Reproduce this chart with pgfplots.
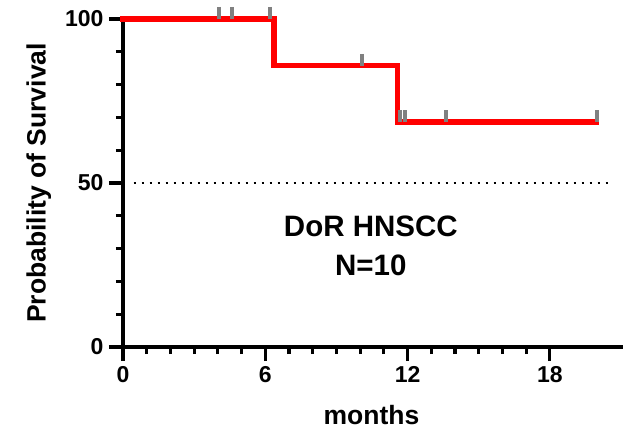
\documentclass[border=0pt]{standalone}
\usepackage{pgfplots}
\pgfplotsset{compat=1.18}
\usepackage{fontspec}
\setmainfont{Liberation Sans}
\begin{document}
\begin{tikzpicture}
\useasboundingbox (-123pt,-86pt) rectangle (500pt,347pt);
\begin{axis}[
  at={(0,0)}, anchor=south west,
  scale only axis, width=498pt, height=328pt,
  xmin=0, xmax=21, ymin=0, ymax=100,
  axis lines=left,
  axis line style={-, line width=3.2pt, black, line cap=rect},
  clip=false,
  xtick={0,6,12,18}, minor x tick num=5,
  ytick={0,50,100}, minor y tick num=4,
  tick align=outside,
  major tick length=14pt, minor tick length=7pt,
  every tick/.style={black, line width=3.2pt},
  /pgf/number format/assume math mode=true,
  tick label style={font=\bfseries\fontsize{23}{23}\selectfont},
  xticklabel style={yshift=-2pt},
  yticklabel style={xshift=-2pt},
  xlabel={months}, ylabel={Probability of Survival},
  label style={font=\bfseries\fontsize{26.5}{26.5}\selectfont},
  xlabel style={at={(axis description cs:0.499,0)}, anchor=center, yshift=-68pt},
  ylabel style={at={(axis description cs:-0.169,0.5)}, anchor=center},
]
\addplot[black, line width=2pt, dash pattern=on 2pt off 6pt] coordinates {(0.45,50) (20.6,50)};
\addplot[const plot, color={rgb,255:red,255;green,0;blue,0}, line width=5.2pt, line cap=rect] coordinates {
  (0,100) (6.37,85.71) (11.57,68.57) (19.98,68.57)
};
\addplot[only marks, mark=|, color={rgb,255:red,128;green,128;blue,128}, mark size=6pt, line width=3.8pt,
  every mark/.append style={yshift=6pt}] coordinates {
  (4.05,100) (4.6,100) (6.2,100)
  (10.08,85.71)
  (11.68,68.57) (11.88,68.57) (13.62,68.57) (19.99,68.57)
};
\node[font=\bfseries\fontsize{29.5}{29.5}\selectfont, align=center] at (axis cs:10.45,30.9) {DoR HNSCC\\[10pt]N=10};
\end{axis}
\end{tikzpicture}
\end{document}
